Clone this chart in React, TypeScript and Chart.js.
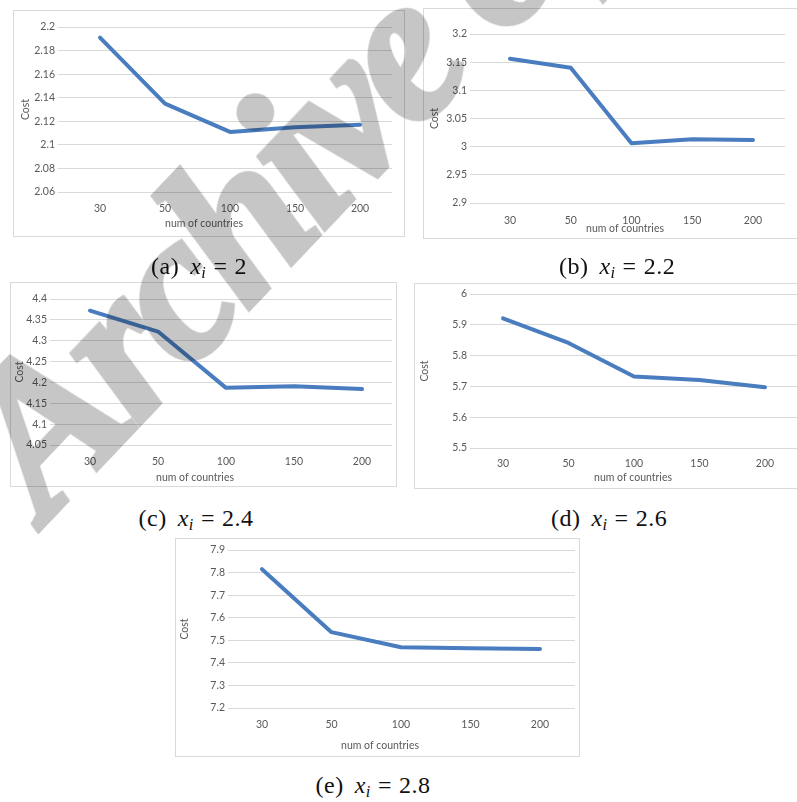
import React, { useEffect, useRef } from "react";
import { Chart, registerables } from "chart.js";

Chart.register(...registerables);

// ---------- data ----------
const categories = ["30", "50", "100", "150", "200"];

const costA = [2.191, 2.135, 2.111, 2.115, 2.117];
const costB = [3.156, 3.14, 3.006, 3.013, 3.012];
const costC = [4.372, 4.322, 4.187, 4.191, 4.184];
const costD = [5.921, 5.841, 5.732, 5.721, 5.697];
const costE = [7.815, 7.536, 7.469, 7.465, 7.461];

const yTicksA = [2.06, 2.08, 2.1, 2.12, 2.14, 2.16, 2.18, 2.2];
const yTicksB = [2.9, 2.95, 3, 3.05, 3.1, 3.15, 3.2];
const yTicksC = [4.05, 4.1, 4.15, 4.2, 4.25, 4.3, 4.35, 4.4];
const yTicksD = [5.5, 5.6, 5.7, 5.8, 5.9, 6];
const yTicksE = [7.2, 7.3, 7.4, 7.5, 7.6, 7.7, 7.8, 7.9];

const captionLetters = ["a", "b", "c", "d", "e"];
const captionValues = ["2", "2.2", "2.4", "2.6", "2.8"];

const xAxisTitle = "num of countries";
const yAxisTitle = "Cost";
const watermarkText = "Archive of SID";

// ---------- styles / layout ----------
const LINE = "#4a7dbf";
const GRID = "#d9d9d9";
const TEXT = "#595959";
const FONT = { family: "Lato, 'Open Sans', sans-serif", size: 10.5 };
const WATERMARK = "rgb(198,198,198)";

type PanelLayout = {
  box: [number, number, number, number];
  area: [number, number, number, number];
  xMin: number;
  xMax: number;
  xTickPad: number;
  costPad: number;
  xTitle: [number, number];
  caption: [number, number];
};

const layouts: PanelLayout[] = [
  { box: [13, 10, 405, 237], area: [58, 27, 392, 192], xMin: -0.646, xMax: 4.492, xTickPad: 2.2, costPad: 6.7, xTitle: [204, 224], caption: [199, 268] },
  { box: [423, 8, 805, 239], area: [470, 34, 785, 203], xMin: -0.658, xMax: 4.527, xTickPad: 2.9, costPad: 5.7, xTitle: [625, 229], caption: [617, 268] },
  { box: [10, 282, 397, 487], area: [50, 299, 392, 445], xMin: -0.588, xMax: 4.441, xTickPad: 2.2, costPad: 3.7, xTitle: [195, 478], caption: [196, 520] },
  { box: [414, 283, 805, 489], area: [470, 294, 797, 448], xMin: -0.504, xMax: 4.489, xTickPad: 1.6, costPad: 4.7, xTitle: [633, 478], caption: [609, 520] },
  { box: [175, 538, 580, 757], area: [228, 550, 575, 708], xMin: -0.489, xMax: 4.504, xTickPad: 1.9, costPad: 3.7, xTitle: [380, 746], caption: [373, 787] },
];

const seriesList = [costA, costB, costC, costD, costE];
const yTickList = [yTicksA, yTicksB, yTicksC, yTicksD, yTicksE];

function Panel({ layout, values, yTicks }: { layout: PanelLayout; values: number[]; yTicks: number[] }) {
  const ref = useRef<HTMLCanvasElement>(null);
  const [bx, by, bx2, by2] = layout.box;
  const W = bx2 - bx;
  const H = by2 - by;

  useEffect(() => {
    const [l, t, r, b] = layout.area;
    const xTitlePlugin = {
      id: "xTitleAbs",
      afterDraw(chart: any) {
        const ctx = chart.ctx;
        ctx.save();
        ctx.font = `${FONT.size}px ${FONT.family}`;
        ctx.fillStyle = TEXT;
        ctx.textAlign = "center";
        ctx.textBaseline = "middle";
        ctx.fillText(xAxisTitle, layout.xTitle[0] - bx, layout.xTitle[1] - by);
        ctx.restore();
      },
    };
    const chart = new Chart(ref.current!, {
      type: "line",
      data: {
        datasets: [
          {
            data: values.map((v, i) => ({ x: i, y: v })),
            borderColor: LINE,
            backgroundColor: LINE,
            borderWidth: 4,
            pointRadius: 0,
            tension: 0,
            fill: false,
            borderCapStyle: "round",
            borderJoinStyle: "round",
          } as any,
        ],
      },
      options: {
        responsive: false,
        maintainAspectRatio: false,
        animation: false,
        devicePixelRatio: 1,
        layout: { padding: { top: t - by, right: bx2 - r, left: 0, bottom: 0 } },
        plugins: { legend: { display: false }, tooltip: { enabled: false }, title: { display: false } },
        scales: {
          x: {
            type: "linear",
            min: layout.xMin,
            max: layout.xMax,
            grid: { display: false },
            border: { display: false },
            afterFit: (s: any) => {
              s.height = by2 - b;
            },
            afterBuildTicks: (s: any) => {
              s.ticks = categories.map((_, i) => ({ value: i }));
            },
            ticks: {
              font: FONT,
              color: TEXT,
              padding: layout.xTickPad,
              maxRotation: 0,
              autoSkip: false,
              callback: (_v: any, i: number) => categories[i],
            },
          },
          y: {
            type: "linear",
            min: yTicks[0],
            max: yTicks[yTicks.length - 1],
            afterFit: (s: any) => {
              s.width = l - bx;
            },
            afterBuildTicks: (s: any) => {
              s.ticks = yTicks.map((v) => ({ value: v }));
            },
            grid: { color: GRID, lineWidth: 1, drawTicks: false },
            border: { display: false },
            ticks: {
              font: FONT,
              color: TEXT,
              padding: 3,
              callback: (v: any) => String(Number(Number(v).toFixed(4))),
            },
            title: {
              display: true,
              text: yAxisTitle,
              font: FONT,
              color: TEXT,
              padding: { top: layout.costPad, bottom: 0 },
            },
          },
        },
      } as any,
      plugins: [xTitlePlugin],
    });
    return () => chart.destroy();
  }, []);

  return (
    <div
      style={{
        position: "absolute",
        left: bx,
        top: by,
        width: W,
        height: H,
        border: `1px solid ${GRID}`,
        boxSizing: "border-box",
        background: "#fff",
      }}
    >
      <canvas ref={ref} width={W} height={H} style={{ position: "absolute", left: -1, top: -1, width: W, height: H }} />
    </div>
  );
}

function Caption({ letter, value, pos }: { letter: string; value: string; pos: [number, number] }) {
  return (
    <div
      style={{
        position: "absolute",
        left: pos[0],
        top: pos[1],
        transform: "translate(-50%, -50%)",
        font: "24px 'Liberation Serif', 'DejaVu Serif', serif",
        whiteSpace: "nowrap",
        color: "#111",
        lineHeight: 1,
        letterSpacing: "0.5px",
      }}
    >
      <span>({letter})</span>
      <i style={{ marginLeft: 11 }}>x</i>
      <sub style={{ fontSize: "0.68em", fontStyle: "italic", verticalAlign: "-0.25em" }}>i</sub>
      <span style={{ margin: "0 7px" }}>=</span>
      <span>{value}</span>
    </div>
  );
}

export default function App() {
  return (
    <div
      style={{
        position: "fixed",
        left: 0,
        top: 0,
        width: 797,
        height: 802,
        overflow: "hidden",
        background: "#fff",
      }}
    >
      {layouts.map((lay, i) => (
        <Panel key={i} layout={lay} values={seriesList[i]} yTicks={yTickList[i]} />
      ))}
      {layouts.map((lay, i) => (
        <Caption key={"c" + i} letter={captionLetters[i]} value={captionValues[i]} pos={lay.caption} />
      ))}
      <div
        style={{
          position: "absolute",
          left: 46,
          top: 522,
          width: 0,
          height: 0,
          transform: "rotate(-46.5deg)",
          transformOrigin: "0 0",
          pointerEvents: "none",
          mixBlendMode: "multiply",
        }}
      >
        <span
          style={{
            position: "absolute",
            left: 0,
            top: "-0.84em",
            font: "italic bold 210px 'Liberation Serif', serif",
            lineHeight: 1,
            whiteSpace: "nowrap",
            letterSpacing: "-8px",
            color: WATERMARK,
            WebkitTextStroke: `6px ${WATERMARK}`,
          } as any}
        >
          {watermarkText}
        </span>
      </div>
    </div>
  );
}
